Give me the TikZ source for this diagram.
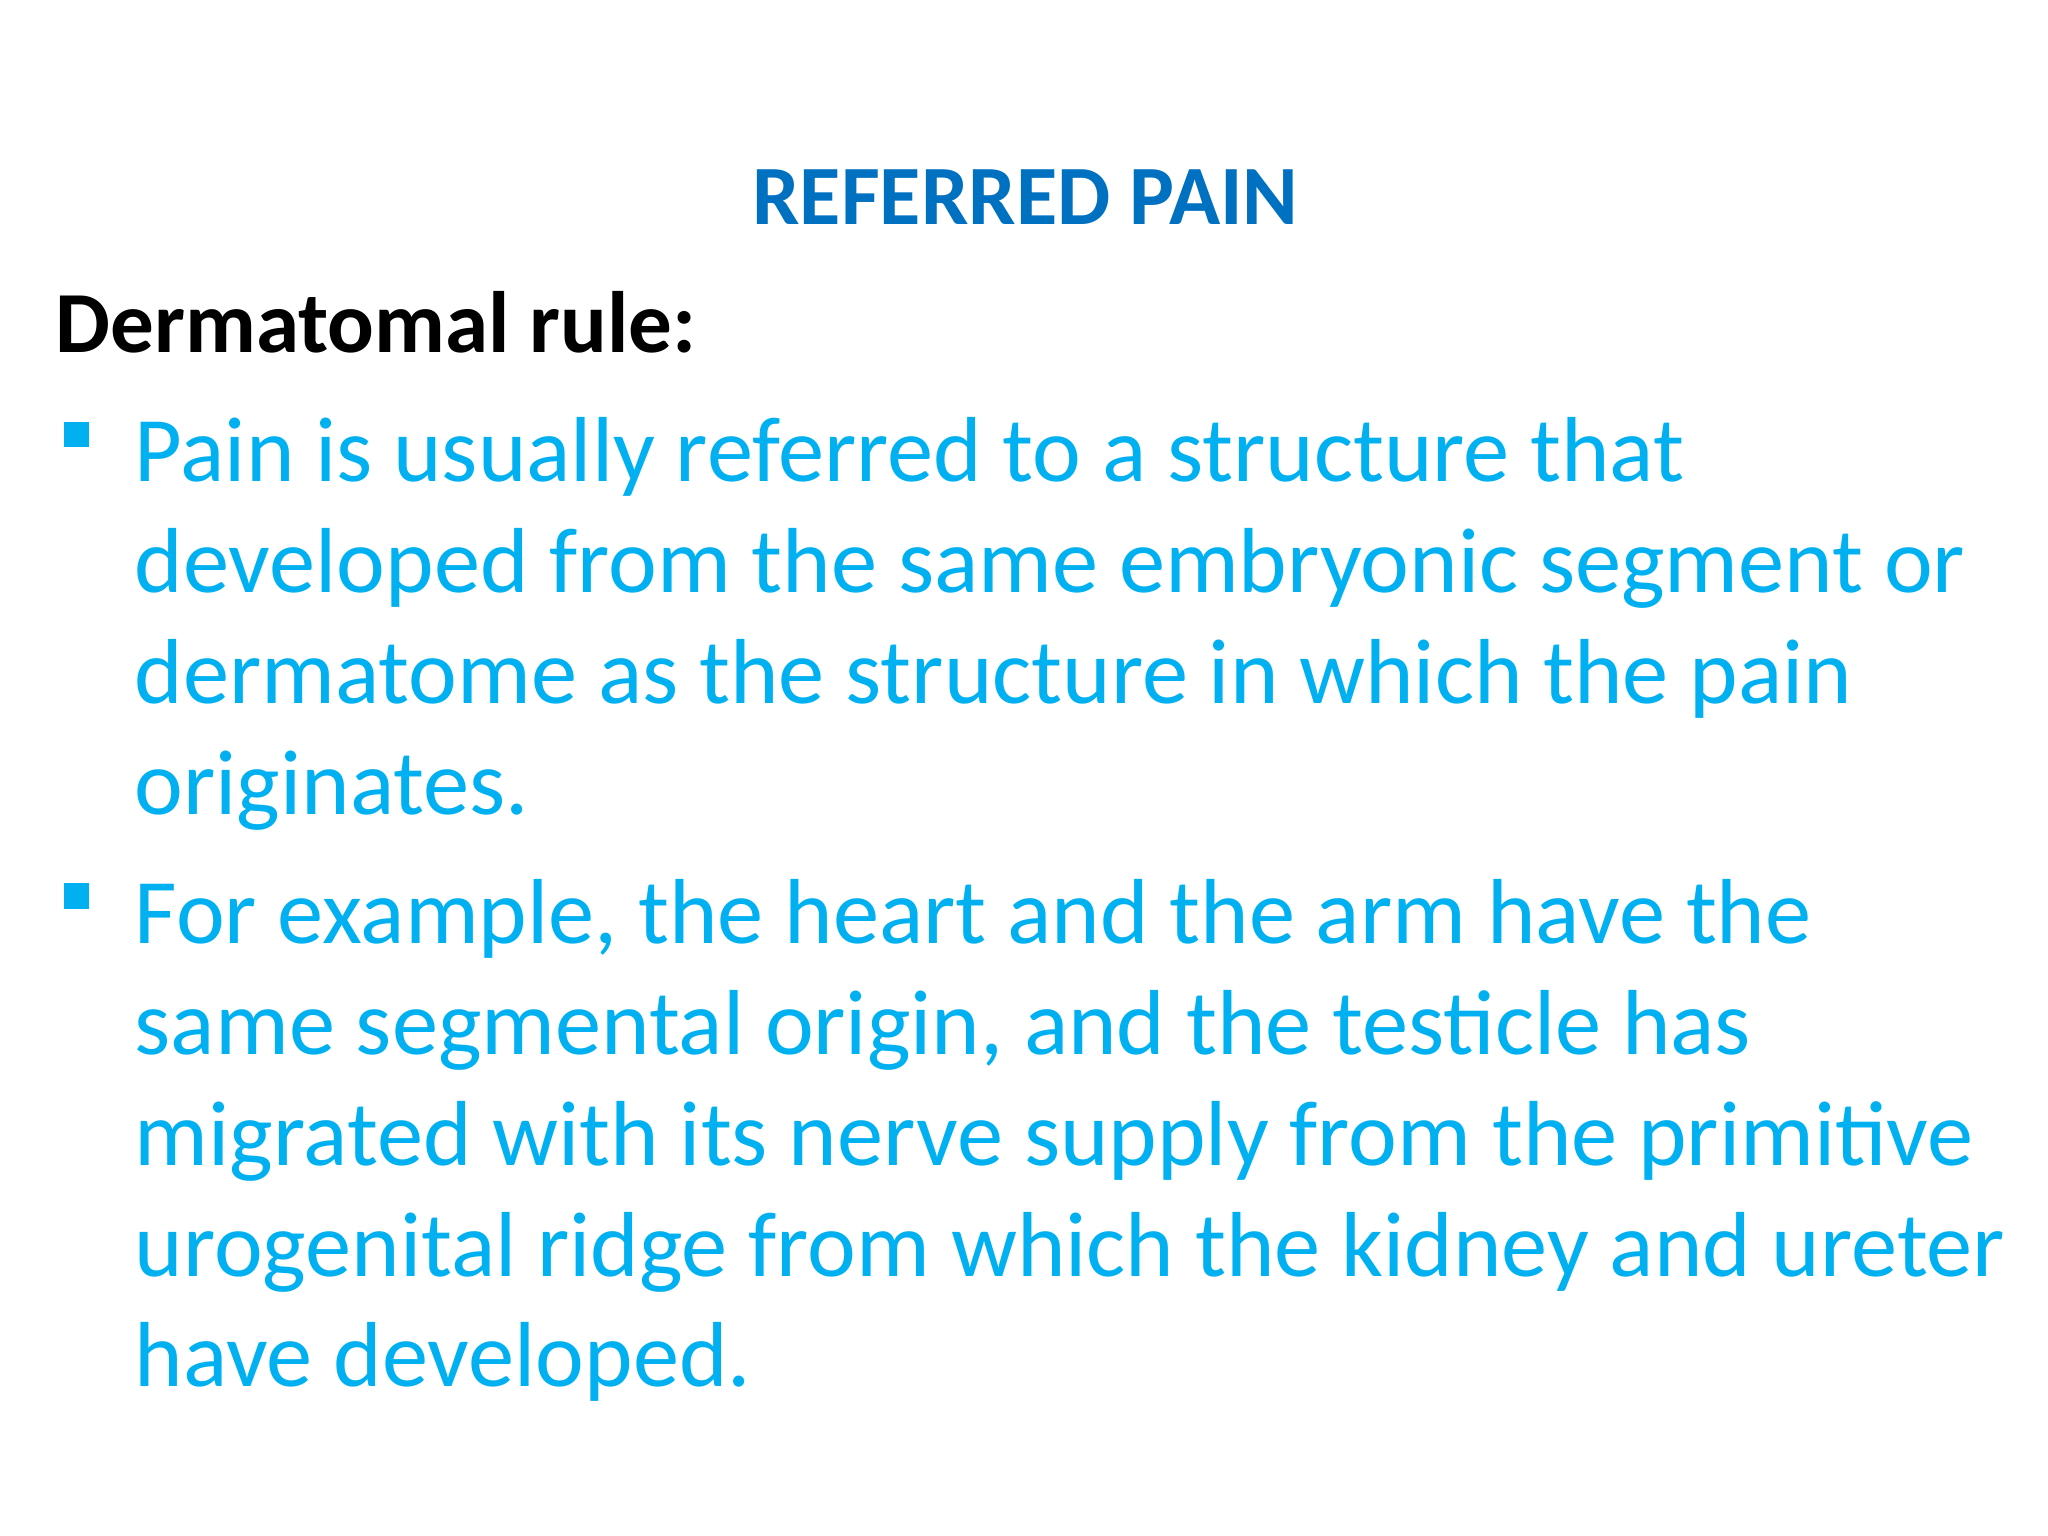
\documentclass[tikz,border=0pt]{standalone}
\usepackage{fontspec}
\setmainfont{Carlito}
\definecolor{tblue}{RGB}{0,112,192}
\definecolor{bblue}{RGB}{0,176,240}
\begin{document}
\begin{tikzpicture}[x=1pt,y=-1pt,
  body/.style={anchor=base west,inner sep=0pt,text=bblue,font=\fontsize{70}{84}\selectfont},
  bul/.style={fill=bblue,minimum size=19pt,inner sep=0pt}]
\useasboundingbox (0,0) rectangle (1552,1164);
\node[anchor=base,inner sep=0pt,text=tblue,font=\fontsize{64}{76}\selectfont\bfseries] (title) at (777,170) {REFERRED PAIN};
\node[anchor=base west,inner sep=0pt,font=\fontsize{66}{80}\selectfont\bfseries] (rule) at (42,267) {Dermatomal rule:};
\node[bul] (b1) at (58,329) {};
\node[body] (l1) at (102,365) {Pain is usually referred to a structure that};
\node[body] (l2) at (102,449) {developed from the same embryonic segment or};
\node[body] (l3) at (102,533) {dermatome as the structure in which the pain};
\node[body] (l4) at (102,617) {originates.};
\node[bul] (b2) at (58,679) {};
\node[body] (m1) at (102,715) {For example, the heart and the arm have the};
\node[body] (m2) at (102,799) {same segmental origin, and the testicle has};
\node[body] (m3) at (102,883) {migrated with its nerve supply from the primitive};
\node[body] (m4) at (102,967) {urogenital ridge from which the kidney and ureter};
\node[body] (m5) at (102,1051) {have developed.};
\end{tikzpicture}
\end{document}
